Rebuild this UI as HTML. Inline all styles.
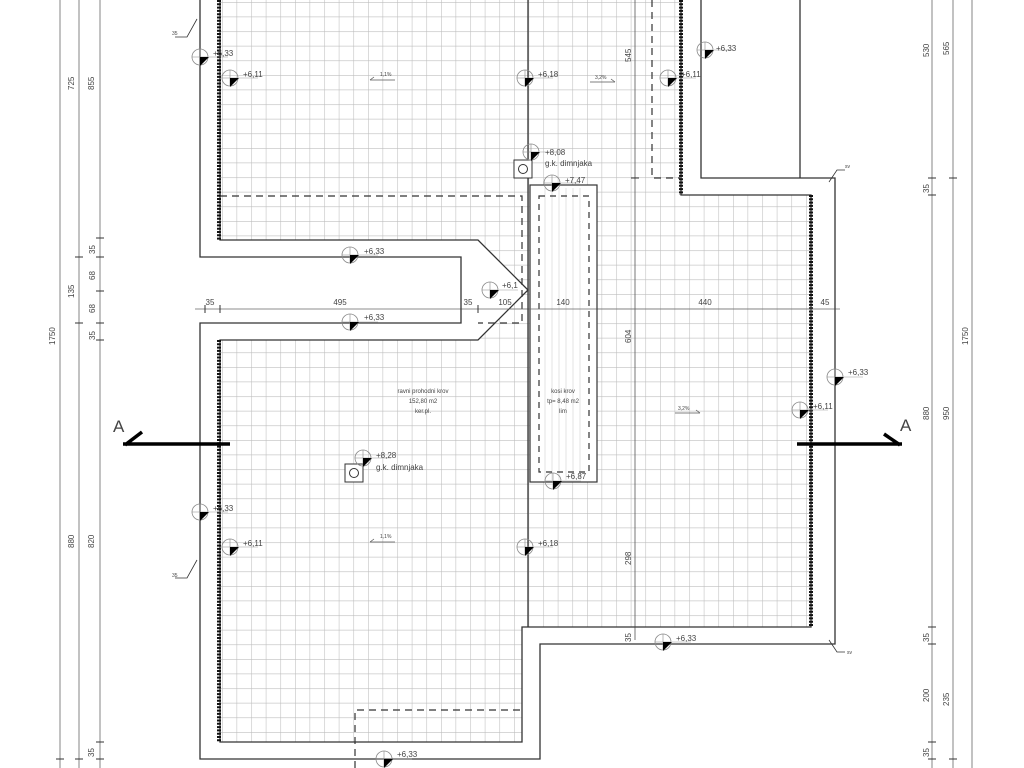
<!DOCTYPE html>
<html><head><meta charset="utf-8"><style>
html,body{margin:0;padding:0;background:#fff;width:1024px;height:768px;overflow:hidden}
svg{display:block}
text{font-family:"Liberation Sans",sans-serif;fill:#444}
</style></head><body>
<svg width="1024" height="768" viewBox="0 0 1024 768" xmlns="http://www.w3.org/2000/svg">
<defs>
<pattern id="g" width="14.6" height="14.6" patternUnits="userSpaceOnUse" x="3" y="2">
<path d="M0 0H14.6M0 0V14.6" stroke="#bdbdbd" stroke-width="1.1" fill="none"/>
</pattern>
<clipPath id="cp"><polygon points="220,0 681,0 681,195 811,195 811,627 522,627 522,742 220,742 220,340 478,340 528,290 478,240 220,240"/></clipPath>
<g id="m"><circle cx="0" cy="0" r="8" fill="none" stroke="#888" stroke-width="0.8"/><path d="M-8 0H8M0 -8V8" stroke="#888" stroke-width="0.6"/><path d="M0 0H9L0 9Z" fill="#000"/><path d="M9 0H28" stroke="#999" stroke-width="0.6"/></g>
</defs>
<rect x="200" y="0" width="640" height="768" fill="url(#g)" clip-path="url(#cp)"/>
<rect x="530" y="185" width="67" height="297" fill="#fff" stroke="#333" stroke-width="1.2"/>
<g stroke="#ddd" stroke-width="0.8">
<path d="M545 188V480M552 188V480M559 188V480M566 188V480M573 188V480M580 188V480"/></g>
<rect x="539" y="196" width="50" height="276" fill="none" stroke="#333" stroke-width="1.2" stroke-dasharray="6,5"/>
<g stroke="#333" stroke-width="1.3" fill="none">
<path d="M200 0V257H461V323H200V759H540V644H835V178H701V0"/>
<path d="M220 0V240H478L528 290L478 340H220V742H522V627H811V195H681V0"/>
<path d="M800 0V178"/>
<path d="M528 0V627"/>
<path d="M635 0V640" stroke="#555" stroke-width="0.8"/>
</g>
<g stroke="#111" stroke-width="4" stroke-dasharray="2,1.3" fill="none">
<path d="M219 0V240M219 340V742M681 0V195M811 195V627"/>
</g>
<g stroke="#333" stroke-width="1.2" fill="none" stroke-dasharray="7,5">
<path d="M220 196H522V323H478"/>
<path d="M652 0V178H680"/>
<path d="M355 768V710H522"/>
</g>
<rect x="514" y="160" width="18" height="18" fill="#fff" stroke="#333"/><circle cx="523" cy="169" r="4.5" fill="none" stroke="#333"/>
<rect x="345" y="464" width="18" height="18" fill="#fff" stroke="#333"/><circle cx="354" cy="473" r="4.5" fill="none" stroke="#333"/>
<g stroke="#666" stroke-width="0.8" fill="none">
<path d="M60 0V768M79 0V768M100 0V768"/>
<path d="M932 0V768M953 0V768M972 0V768"/>
<path d="M195 309H840"/>
</g>
<g stroke="#333" stroke-width="1" fill="none">
<path d="M96 238h8M96 257h8M96 291h8M96 323h8M96 340h8M75 257h8M75 323h8M96 742h8M96 759h8M75 759h8M56 759h8"/>
<path d="M928 178h8M928 195h8M949 178h8M928 627h8M928 644h8M928 742h8M928 759h8M949 759h8"/>
<path d="M205 305v8M220 305v8M461 305v8M478 305v8M528 305v8M597 305v8M811 305v8M835 305v8M631 178h8M631 627h8M631 644h8"/>
</g>
<g font-size="8">
<text transform="translate(74,90) rotate(-90)">725</text>
<text transform="translate(94,90) rotate(-90)">855</text>
<text transform="translate(55,345) rotate(-90)">1750</text>
<text transform="translate(74,298) rotate(-90)">135</text>
<text transform="translate(95,254) rotate(-90)">35</text>
<text transform="translate(95,280) rotate(-90)">68</text>
<text transform="translate(95,313) rotate(-90)">68</text>
<text transform="translate(95,340) rotate(-90)">35</text>
<text transform="translate(74,548) rotate(-90)">880</text>
<text transform="translate(94,548) rotate(-90)">820</text>
<text transform="translate(94,757) rotate(-90)">35</text>
<text transform="translate(929,57) rotate(-90)">530</text>
<text transform="translate(949,55) rotate(-90)">565</text>
<text transform="translate(929,193) rotate(-90)">35</text>
<text transform="translate(968,345) rotate(-90)">1750</text>
<text transform="translate(929,420) rotate(-90)">880</text>
<text transform="translate(949,420) rotate(-90)">950</text>
<text transform="translate(929,642) rotate(-90)">35</text>
<text transform="translate(929,702) rotate(-90)">200</text>
<text transform="translate(949,706) rotate(-90)">235</text>
<text transform="translate(929,757) rotate(-90)">35</text>
<text transform="translate(631,62) rotate(-90)">545</text>
<text transform="translate(631,343) rotate(-90)">604</text>
<text transform="translate(631,565) rotate(-90)">298</text>
<text transform="translate(631,642) rotate(-90)">35</text>
</g>
<g font-size="8" text-anchor="middle">
<text x="210" y="305">35</text><text x="340" y="305">495</text><text x="468" y="305">35</text>
<text x="505" y="305">105</text><text x="563" y="305">140</text><text x="705" y="305">440</text><text x="825" y="305">45</text>
</g>
<use href="#m" x="200" y="57"/><text x="213" y="56" font-size="8">+6,33</text>
<use href="#m" x="230" y="78"/><text x="243" y="77" font-size="8">+6,11</text>
<use href="#m" x="525" y="78"/><text x="538" y="77" font-size="8">+6,18</text>
<use href="#m" x="705" y="50"/><text x="716" y="51" font-size="8">+6,33</text>
<use href="#m" x="668" y="78"/><text x="681" y="77" font-size="8">+6,11</text>
<use href="#m" x="531" y="152"/><text x="545" y="155" font-size="8">+8,08</text><text x="545" y="166" font-size="8">g.k. dimnjaka</text>
<use href="#m" x="552" y="183"/><text x="565" y="183" font-size="8">+7,47</text>
<use href="#m" x="350" y="255"/><text x="364" y="254" font-size="8">+6,33</text>
<use href="#m" x="490" y="290"/><text x="502" y="288" font-size="8">+6,1</text>
<use href="#m" x="350" y="322"/><text x="364" y="320" font-size="8">+6,33</text>
<use href="#m" x="835" y="377"/><text x="848" y="375" font-size="8">+6,33</text>
<use href="#m" x="800" y="410"/><text x="813" y="409" font-size="8">+6,11</text>
<use href="#m" x="363" y="458"/><text x="376" y="458" font-size="8">+8,28</text><text x="376" y="470" font-size="8">g.k. dimnjaka</text>
<use href="#m" x="553" y="481"/><text x="566" y="479" font-size="8">+6,87</text>
<use href="#m" x="200" y="512"/><text x="213" y="511" font-size="8">+6,33</text>
<use href="#m" x="230" y="547"/><text x="243" y="546" font-size="8">+6,11</text>
<use href="#m" x="525" y="547"/><text x="538" y="546" font-size="8">+6,18</text>
<use href="#m" x="663" y="642"/><text x="676" y="641" font-size="8">+6,33</text>
<use href="#m" x="384" y="759"/><text x="397" y="757" font-size="8">+6,33</text>
<g font-size="5" fill="#555"><text x="380" y="76">1,1%</text><text x="380" y="538">1,1%</text><text x="595" y="79">3,2%</text><text x="678" y="410">3,2%</text></g>
<g stroke="#555" stroke-width="0.7" fill="none">
<path d="M370 80h25M370 80l4-3M370 542h25M370 542l4-3M590 82h25M615 82l-4-3M675 413h25M700 413l-4-3"/>
</g>
<g font-size="6" text-anchor="middle" fill="#444">
<text x="423" y="393">ravni prohodni krov</text><text x="423" y="403">152,80 m2</text><text x="423" y="413">ker.pl.</text>
<text x="563" y="393">kosi krov</text><text x="563" y="403">tp= 8,48 m2</text><text x="563" y="413">lim</text>
</g>
<g stroke="#333" stroke-width="0.8" fill="none">
<path d="M175 37h12l10-18M175 578h12l10-18M845 170h-8l-8 12M845 652h-8l-8-12"/>
</g>
<g font-size="5"><text x="172" y="35">35</text><text x="172" y="577">35</text><text x="845" y="168">sv</text><text x="847" y="654">sv</text></g>
<g stroke="#000" stroke-width="3.5" fill="none" stroke-linecap="butt">
<path d="M123 444H230M125 445L142 432"/>
<path d="M797 444H902M900 445L884 434"/>
</g>
<text x="113" y="432" font-size="17" fill="#111">A</text>
<text x="900" y="431" font-size="17" fill="#111">A</text>
</svg>
</body></html>
